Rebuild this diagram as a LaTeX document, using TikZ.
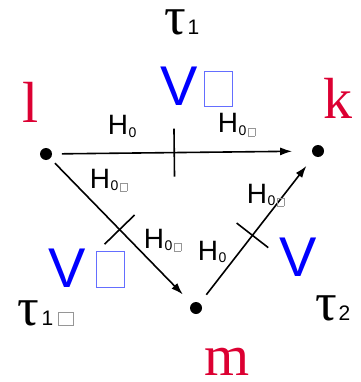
\documentclass[tikz,border=0pt]{standalone}
\usepackage{fontspec}
\setmainfont{Liberation Sans}
\newfontfamily\tnrfont{Liberation Serif}
\usetikzlibrary{arrows.meta}
\definecolor{crimson}{RGB}{220,0,50}
\definecolor{paleblue}{RGB}{100,110,255}
\definecolor{boxgray}{RGB}{150,150,150}
% empty glyph box: width, height, colour
\newcommand{\tofu}[3]{\textcolor{#3}{\fboxsep=0pt\fboxrule=.8pt\fbox{\rule{0pt}{#2}\hspace{#1}}}}
\newcommand{\Hlab}[1]{H\kern.5pt\raisebox{-.1em}{\fontsize{14}{14}\selectfont 0#1}}
\newcommand{\taufont}{\tnrfont\fontsize{54}{54}\selectfont}

\begin{document}
\begin{tikzpicture}[x=1pt,y=-1pt,line width=1.6pt,
  dot/.style={circle,fill=black,inner sep=0pt,minimum size=12pt},
  hlab/.style={inner sep=0pt,anchor=base west,font=\fontsize{28}{30}\selectfont},
  vlab/.style={inner sep=0pt,anchor=base west,text=blue,font=\fontsize{56}{58}\selectfont},
  vertex/.style={inner sep=0pt,anchor=base,text depth=0pt,text=crimson,font=\tnrfont\fontsize{58}{60}\selectfont},
  taulab/.style={inner sep=0pt,anchor=base west,text height=24pt,text depth=0pt,font=\fontsize{21}{24}\selectfont},
  arr/.style={-{Latex[length=12pt,width=8pt]}}]
  \useasboundingbox (0,0) rectangle (360,382);

  \node[dot] (l) at (46,154) {};
  \node[dot] (k) at (318,151) {};
  \node[dot] (m) at (196,308) {};

  \node[vertex] (nl) at (31,123) {l};
  \node[vertex] (nk) at (338,119) {k};
  \node[vertex] (nm) at (227,375) {m};

  % edges with their cut marks
  \draw[arr,shorten <=9pt,shorten >=19pt] (l) -- (k)
    node[pos=.47,sloped,inner sep=0pt] (c1) {\rule{1.6pt}{48pt}};
  \draw[arr,shorten <=6pt,shorten >=12pt] (l) -- (m)
    node[pos=.49,sloped,inner sep=0pt] (c2) {\rule{1.6pt}{42pt}};
  \draw[arr,shorten <=10pt,shorten >=12pt] (m) -- (k)
    node[pos=.46,sloped,inner sep=0pt] (c3) {\rule{1.6pt}{40pt}};

  % H labels
  \node[hlab] (h1) at (107,135) {\Hlab{}};
  \node[hlab] (h2) at (217,133) {\Hlab{\kern1.5pt\tofu{6pt}{7pt}{boxgray}}};
  \node[hlab] (h3) at (89,188) {\Hlab{\kern1.5pt\tofu{6pt}{7pt}{boxgray}}};
  \node[hlab] (h4) at (143,248) {\Hlab{\kern1.5pt\tofu{6pt}{7pt}{boxgray}}};
  \node[hlab] (h5) at (197,260) {\Hlab{}};
  \node[hlab] (h6) at (246,203) {\Hlab{\kern1.5pt\tofu{6pt}{7pt}{boxgray}}};

  % V labels
  \node[vlab] (v1) at (160,106) {V\kern6pt\tofu{27pt}{34pt}{paleblue}};
  \node[vlab] (v2) at (48,287) {V\kern10pt\tofu{27pt}{35pt}{paleblue}};
  \node[vlab] (v3) at (279,276) {V};

  % tau labels
  \node[taulab] (t1) at (164,35) {{\taufont τ}\kern1pt1};
  \node[taulab] (t2) at (17,325) {{\taufont τ}\kern2pt1\kern5pt\tofu{14pt}{12pt}{boxgray}};
  \node[taulab] (t3) at (315,320) {{\taufont τ}\kern1pt2};
\end{tikzpicture}
\end{document}
